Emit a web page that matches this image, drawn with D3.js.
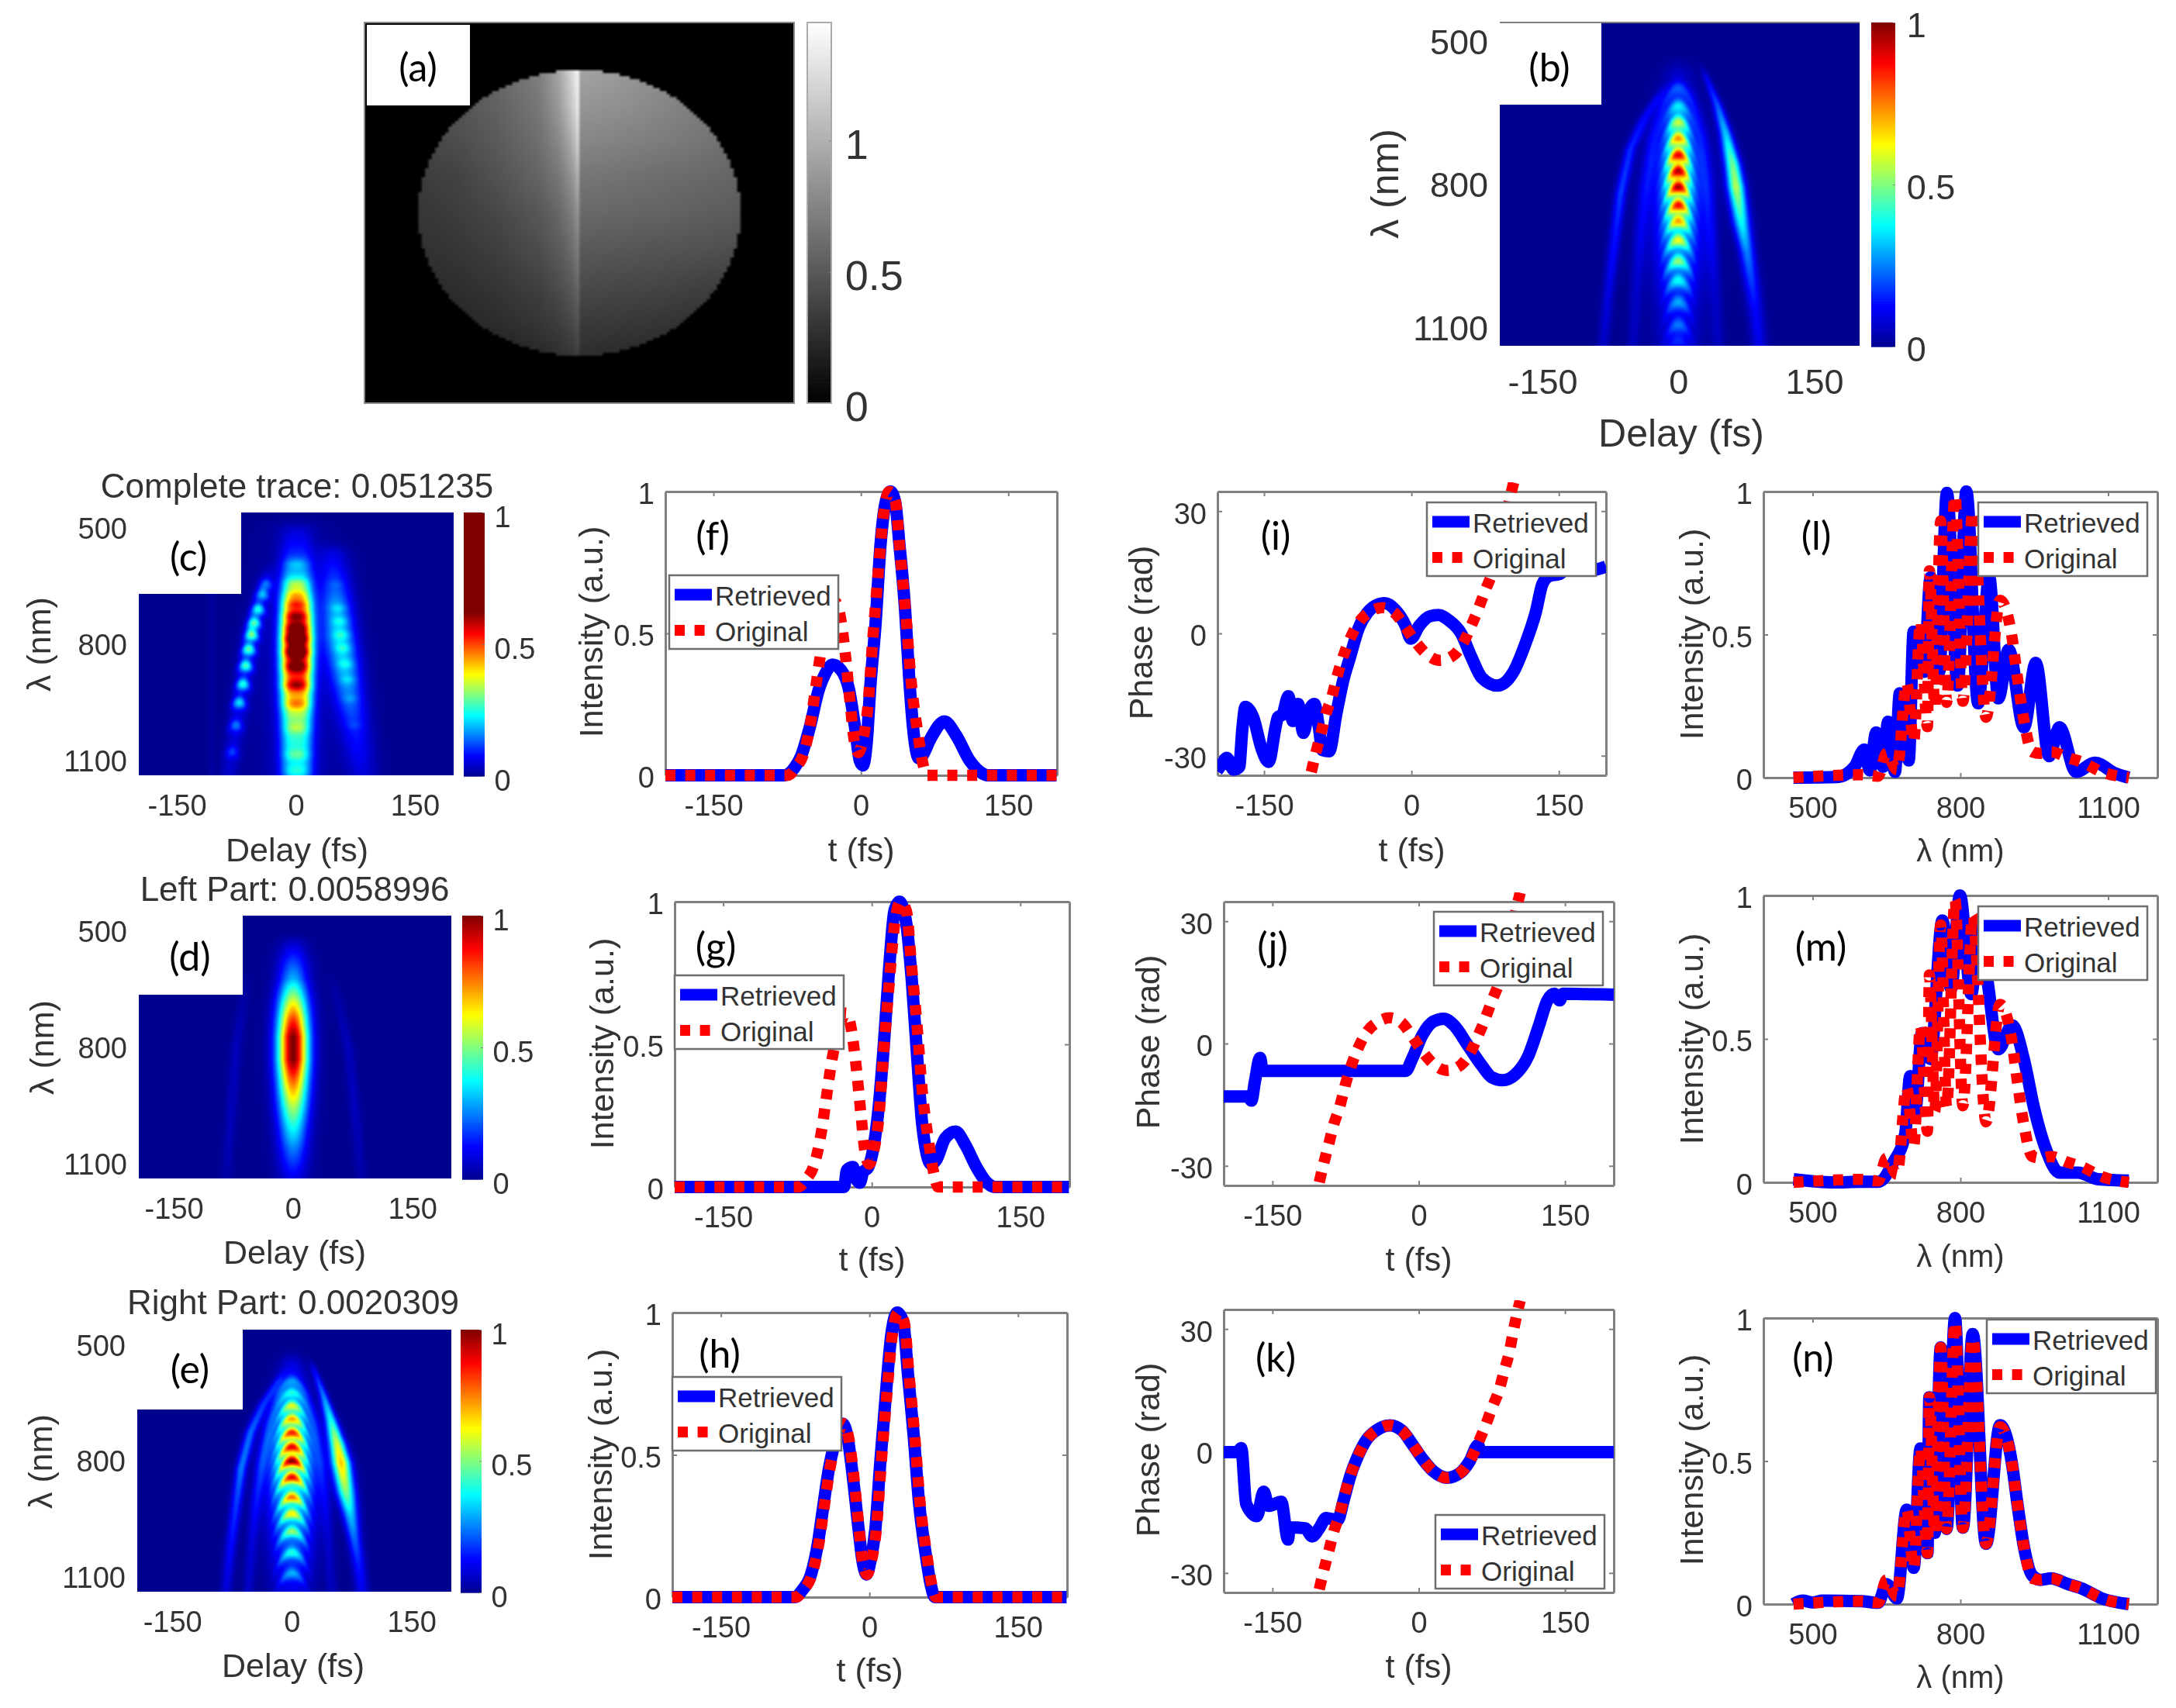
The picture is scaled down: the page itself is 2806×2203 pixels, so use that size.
<!DOCTYPE html>
<html>

<head>
    <meta charset="utf-8">
    <title>Pulse retrieval panels</title>
    <script src="https://cdnjs.cloudflare.com/ajax/libs/d3/7.8.5/d3.min.js"></script>
    <style>
        body { margin: 0; background: #fff; }
        svg { display: block; filter: blur(0.7px); }
        text { font-family: "Liberation Sans", Arial, sans-serif; fill: #333; }
        .tag { font-family: Lato, sans-serif; fill: #000; font-size: 50px; text-anchor: middle; dominant-baseline: central; }
    </style>
</head>

<body>
    <svg id="viz" width="2806" height="2203"></svg>
    <script>
        // values
        var delayTicks = [-150, 0, 150];
        var lambdaTicks = [500, 800, 1100];
        var intensityTicks = [0, 0.5, 1];
        var phaseTicks = [-30, 0, 30];
        var colorbarTicks = [0, 0.5, 1];

        // temporal intensity, original pulse (same in f, g, h)
        var tOrig = [-199, -74, -67, -58, -51, -46, -40, -35, -26, -21, -16, -10.5, -7, -2.5, 2, 7, 12, 17.5, 23, 29, 35, 40, 45.6, 51, 58, 63, 67, 199];
        var iOrig = [0, 0, 0.024, 0.08, 0.19, 0.31, 0.45, 0.53, 0.61, 0.56, 0.43, 0.24, 0.127, 0.08, 0.127, 0.24, 0.476, 0.71, 0.92, 1, 0.967, 0.78, 0.57, 0.335, 0.146, 0.042, 0, 0];
        // retrieved intensity
        var tF = [-199, -78, -68, -61, -52, -43, -36, -29, -20, -12, -6, -1, 2, 6, 9.5, 15, 20, 25, 30, 35, 39, 45, 49, 53, 59, 62, 71, 85, 97, 111, 124, 129, 199];
        var iF = [0, 0, 0.025, 0.067, 0.17, 0.3, 0.36, 0.39, 0.37, 0.3, 0.17, 0.05, 0.035, 0.12, 0.31, 0.54, 0.815, 0.96, 1, 0.96, 0.82, 0.58, 0.35, 0.17, 0.06, 0.067, 0.13, 0.19, 0.14, 0.05, 0.006, 0, 0];
        var tG = [-199, -28, -25, -19, -16, -12, -9, -3.5, 2, 7, 12, 17.6, 23, 28, 35, 40.5, 46, 51, 60, 65, 74, 84.5, 95, 105.6, 116, 125, 199];
        var iG = [0, 0, 0.06, 0.07, 0.03, 0.015, 0.05, 0.07, 0.144, 0.28, 0.49, 0.77, 0.97, 1, 0.92, 0.72, 0.447, 0.217, 0.08, 0.094, 0.17, 0.194, 0.144, 0.07, 0.016, 0, 0];
        var tH = [-199, -75, -68, -59, -52, -47, -41, -36, -27, -22, -17, -11, -7, -3, 1, 6, 11, 16.5, 22, 28, 34, 39, 44.6, 50, 57, 62, 66, 199];
        var iH = [0, 0, 0.024, 0.08, 0.19, 0.31, 0.45, 0.53, 0.61, 0.56, 0.43, 0.24, 0.127, 0.08, 0.127, 0.24, 0.476, 0.71, 0.92, 1, 0.967, 0.78, 0.57, 0.335, 0.146, 0.042, 0, 0];

        // temporal phase
        var tPhaseOrig = [-102, -97, -92, -87.4, -81, -75.7, -70, -63, -54, -42, -29.5, -17, -6.4, 4, 15, 29, 43, 52, 61, 68, 75, 82.4, 88, 93, 96.6, 101, 104];
        var pPhaseOrig = [-34, -29, -24.4, -20, -15.5, -10.5, -6, -1.6, 2.6, 5.3, 6.3, 5, 1.6, -2, -5, -6.6, -5.3, -2.6, 2, 6, 10.5, 15, 20, 24.4, 29, 34, 37];
        var tI = [-198, -193, -188, -181, -175.4, -172, -169, -161, -152.5, -145.4, -138.4, -136, -131.3, -125.3, -120.7, -115.4, -110, -104.8, -98.8, -94.2, -90.7, -83.7, -76.6, -69.5, -62.5, -53.7, -44.8, -34.2, -27.2, -16.6, -6, -0.7, 8, 18.7, 27.5, 38, 50.5, 61, 71.7, 87.5, 103.4, 115.8, 126.4, 133.4, 140.5, 151, 160, 181, 198];
        var pI = [-33.7, -32.1, -30.5, -33.4, -32.8, -23.1, -18, -20.6, -28.3, -31.5, -23.1, -20.6, -19.9, -15.4, -21.5, -17.3, -24.4, -19.3, -17.3, -23.1, -28.6, -28.9, -19.9, -11.6, -5.8, 1.3, 5.1, 7.1, 7.4, 5.8, 1.9, -1.3, 1.9, 4.2, 4.5, 3.2, 0, -5.8, -10.9, -12.8, -9.6, -2.6, 5.1, 12.2, 14.1, 14.6, 16.4, 15.4, 16.4];
        var tJ = [-200, -175, -171.6, -168, -162.7, -160, -13.5, -6.4, 4, 15, 25.6, 36, 50, 64.7, 75, 86, 98.4, 112.6, 123, 132, 139, 144.6, 148, 200];
        var pJ = [-13, -13, -14, -9.3, -3.5, -6.7, -6.7, -3.5, 2.2, 5.4, 6.1, 4.5, -0.3, -5.4, -8.3, -9, -7.7, -2.9, 4.2, 10.6, 12.2, 10.6, 12.2, 12];
        var tK = [-200, -186, -182, -177, -166, -159, -154, -141, -134, -132.5, -116.5, -109.4, -102, -95, -83, -77.4, -70, -63, -54, -42, -29.5, -17, -6.4, 4, 15, 29, 43, 52, 61, 63, 200];
        var pK = [-0.3, -0.3, 0.7, -13, -16, -10, -13.5, -12.5, -21.8, -18.8, -19, -21, -19, -16.5, -17, -12.5, -6, -1.6, 2.6, 5.3, 6.3, 5, 1.6, -2, -5, -6.6, -5.3, -2.6, 1.5, -0.3, -0.3];

        // spectra
        var lOrig = [461, 598, 633, 650, 671, 691, 705, 719, 733, 737, 748, 760, 772, 789, 805, 825, 852, 880.5, 905, 915, 929, 946, 963, 984, 1018, 1046, 1087, 1142];
        var sOrig = [0, 0.01, 0.005, 0.085, 0.028, 0.33, 0.127, 0.544, 0.178, 0.723, 0.249, 0.897, 0.263, 0.985, 0.267, 0.93, 0.211, 0.62, 0.488, 0.36, 0.2, 0.09, 0.085, 0.09, 0.07, 0.055, 0.02, 0];
        var lL = [461, 550, 585, 605, 616, 629, 643, 653, 667, 677, 695, 705, 726, 739.5, 757, 772.5, 794.5, 812, 836, 858.5, 877, 898, 929, 953, 980, 1001, 1035, 1073, 1114.5, 1142];
        var sL = [0, 0.002, 0.038, 0.098, 0.025, 0.158, 0.038, 0.195, 0.02, 0.295, 0.06, 0.51, 0.37, 0.7, 0.37, 0.995, 0.322, 1, 0.26, 0.7, 0.277, 0.447, 0.176, 0.401, 0.075, 0.176, 0.02, 0.052, 0.015, 0];
        var lM = [461, 543, 598, 633, 664, 688, 698, 708, 722, 739, 763.5, 781, 799, 822, 839, 856.5, 877, 905, 929, 949, 973.5, 1001, 1039, 1080, 1142];
        var sM = [0.011, 0, 0.002, 0.002, 0.07, 0.17, 0.37, 0.245, 0.52, 0.43, 0.913, 0.675, 1, 0.656, 0.913, 0.684, 0.464, 0.547, 0.428, 0.263, 0.116, 0.034, 0.034, 0.011, 0.006];
        var lN = [461, 480, 500, 520, 598, 633, 650, 671, 691, 705, 719, 733, 737, 748, 760, 772, 789, 805, 825, 852, 880.5, 905, 915, 929, 946, 963, 984, 1018, 1046, 1087, 1142];
        var sN = [0, 0.012, 0.006, 0.012, 0.01, 0.005, 0.07, 0.02, 0.33, 0.127, 0.544, 0.178, 0.723, 0.249, 0.897, 0.263, 1, 0.267, 0.944, 0.211, 0.625, 0.488, 0.36, 0.2, 0.1, 0.085, 0.09, 0.07, 0.055, 0.02, 0];

        // panel (a) mask, phase sampled on a coarse grid, seam at column 0
        var maskRows = [-48, -36, -24, -12, 0, 12, 24, 36, 48];
        var maskLeftCols = [-48, -36, -24, -12, -6, -2, 0];
        var maskRightCols = [0, 12, 24, 36, 48];
        var maskLeft = [
            [0.54, 0.54, 0.60, 0.72, 0.95, 1.25, 1.42],
            [0.45, 0.48, 0.56, 0.68, 0.88, 1.15, 1.38],
            [0.40, 0.44, 0.52, 0.63, 0.78, 1.00, 1.25],
            [0.34, 0.38, 0.47, 0.57, 0.68, 0.84, 1.05],
            [0.31, 0.35, 0.41, 0.50, 0.59, 0.72, 0.88],
            [0.28, 0.31, 0.36, 0.44, 0.52, 0.62, 0.75],
            [0.24, 0.27, 0.31, 0.37, 0.44, 0.52, 0.62],
            [0.20, 0.22, 0.26, 0.31, 0.36, 0.42, 0.50],
            [0.14, 0.16, 0.19, 0.23, 0.27, 0.31, 0.37]
        ];
        var maskRight = [
            [0.94, 0.88, 0.80, 0.71, 0.65],
            [0.85, 0.82, 0.77, 0.71, 0.65],
            [0.77, 0.74, 0.71, 0.67, 0.62],
            [0.67, 0.65, 0.62, 0.60, 0.57],
            [0.60, 0.58, 0.57, 0.54, 0.52],
            [0.51, 0.50, 0.48, 0.47, 0.44],
            [0.43, 0.41, 0.40, 0.37, 0.35],
            [0.34, 0.33, 0.31, 0.28, 0.27],
            [0.26, 0.24, 0.23, 0.22, 0.20]
        ];

        // traces: too fine to read cell by cell, so each is read as ridges
        // (lambda, delay, peak value, width in fs) and fringe lobes (delay, lambda, peak value)
        var bRidges = [
            { lam: [567, 629, 691, 754, 803, 878, 940, 1003, 1065, 1136], delay: [30, 43, 52.6, 60, 64, 70, 76, 81, 85.6, 89.5], val: [0.08, 0.2, 0.32, 0.48, 0.55, 0.38, 0.25, 0.18, 0.12, 0.1], width: [3, 4, 5, 6, 6.5, 6.5, 6, 6, 6, 6] },
            { lam: [617, 660, 722, 816, 909, 1034, 1136], delay: [-24, -38, -53, -64, -70, -78, -83], val: [0.08, 0.12, 0.16, 0.18, 0.14, 0.09, 0.06], width: [4, 4.5, 4.5, 4.5, 4.5, 4.5, 4.5] },
            { lam: [560, 620, 680, 740, 800, 860, 930, 1000, 1070, 1136], delay: [0, 0, 0, 0, 0, 0, 0, 0, 0, 0], val: [0.06, 0.1, 0.16, 0.22, 0.24, 0.22, 0.19, 0.14, 0.1, 0.08], width: [12, 15, 18, 20, 21, 21, 21, 20, 18, 18] },
            { lam: [620, 700, 800, 900, 1000, 1136], delay: [-15, -28, -36, -42, -46, -50], val: [0.06, 0.08, 0.09, 0.08, 0.06, 0.05], width: [5, 5, 5, 5, 5, 5] },
            { lam: [620, 700, 800, 900, 1000, 1136], delay: [15, 26, 32, 36, 40, 44], val: [0.06, 0.08, 0.09, 0.08, 0.06, 0.05], width: [5, 5, 5, 5, 5, 5] }
        ];
        var bLobes = {
            lam: [595, 632, 666, 700, 735, 769, 803, 841, 875, 915, 959, 1000, 1046, 1093, 1127],
            delay: [0, 0, 0, 0, 0, 0, 0, 0, 0, 0, 0, 0, 0, 0, 0],
            val: [0.13, 0.25, 0.42, 0.55, 0.68, 0.72, 0.72, 0.65, 0.5, 0.42, 0.35, 0.25, 0.18, 0.15, 0.08],
            sd: 9, sl: 11, curve: 0.12
        };

        var cValueLam = [500, 560, 600, 642, 670, 694, 725, 756, 783, 818, 856, 904, 953, 1015, 1084, 1136];
        var cValue = [0.02, 0.06, 0.11, 0.19, 0.26, 0.32, 0.38, 0.42, 0.45, 0.45, 0.41, 0.36, 0.28, 0.19, 0.16, 0.13];
        var cRidges = [
            { lam: cValueLam, delay: cValueLam.map(function() { return -8; }), val: cValue, width: cValueLam.map(function() { return 9; }) },
            { lam: cValueLam, delay: cValueLam.map(function() { return 10; }), val: cValue, width: cValueLam.map(function() { return 9; }) },
            { lam: [500, 800, 1136], delay: [1, 1, 1], val: [0.02, 0.05, 0.04], width: [25, 30, 30] },
            { lam: [560, 640, 700, 780, 860, 940, 1020, 1136], delay: [47, 50, 52, 56, 62, 68, 75, 84], val: [0.05, 0.11, 0.17, 0.21, 0.19, 0.14, 0.09, 0.05], width: [14, 14, 14, 14, 14, 14, 14, 14] },
            { lam: [620, 760, 900, 1136], delay: [-36, -55, -67, -85], val: [0.03, 0.06, 0.06, 0.04], width: [8, 8, 8, 8] },
            { lam: [460, 1136], delay: [-107, -107], val: [0.012, 0.012], width: [3, 3] }
        ];
        var cLobes = {
            lam: [590, 642, 670, 694, 725, 756, 783, 818, 856, 904, 953, 1015, 1084, 1125],
            delay: [1, 1, 1, 1, 1, 1, 1, 1, 1, 1, 1, 1, 1, 1],
            val: [0.05, 0.08, 0.08, 0.1, 0.12, 0.13, 0.17, 0.17, 0.14, 0.13, 0.09, 0.07, 0.06, 0.05],
            sd: 10, sl: 10, curve: 0
        };
        var cLeftLobes = {
            lam: [642, 669, 707, 742, 773, 811, 853, 901, 949, 1008, 1077],
            delay: [-38, -42.5, -48, -53, -56, -60, -63.6, -67, -72, -76, -80.6],
            val: [0.1, 0.14, 0.19, 0.22, 0.24, 0.22, 0.21, 0.19, 0.16, 0.1, 0.07],
            sd: 6, sl: 11, curve: 0.06
        };
        var cRightLobes = {
            lam: [642, 704, 738, 773, 808, 849, 890, 939, 1008],
            delay: [51, 54, 56, 58, 60, 63, 66, 69, 74],
            val: [0.02, 0.04, 0.05, 0.05, 0.05, 0.05, 0.04, 0.03, 0.02],
            sd: 7, sl: 8, curve: 0
        };

        var dRidges = [
            { lam: [520, 560, 620, 680, 720, 770, 830, 880, 950, 1000, 1060, 1100, 1136], delay: [0, 0, 0, 0, 0, 0, 0, 0, 0, 0, 0, 0, 0], val: [0.05, 0.15, 0.3, 0.6, 0.8, 1, 1, 0.8, 0.55, 0.4, 0.25, 0.17, 0.1], width: [12, 13, 13, 13.5, 13.5, 13.5, 13.5, 13.5, 13.5, 13, 13, 13, 13] },
            { lam: [640, 800, 960, 1136], delay: [-60, -72, -78, -84], val: [0.02, 0.05, 0.05, 0.03], width: [5, 5, 5, 5] },
            { lam: [640, 800, 960, 1136], delay: [52, 70, 78, 86], val: [0.02, 0.05, 0.05, 0.03], width: [5, 5, 5, 5] }
        ];

        var eRidges = [
            { lam: [560, 629, 691, 754, 803, 878, 940, 1003, 1065, 1136], delay: [28, 40, 49, 57, 62, 68, 74, 79, 84, 88], val: [0.1, 0.24, 0.38, 0.58, 0.68, 0.5, 0.32, 0.22, 0.15, 0.1], width: [3, 4, 5.5, 7, 8, 8, 7, 6, 6, 6] },
            { lam: [590, 650, 722, 816, 909, 1034, 1136], delay: [-18, -36, -52, -64, -70, -78, -83], val: [0.1, 0.16, 0.22, 0.24, 0.18, 0.12, 0.08], width: [4, 5, 5, 5, 5, 5, 5] },
            { lam: [540, 600, 680, 740, 800, 860, 930, 1000, 1070, 1136], delay: [0, 0, 0, 0, 0, 0, 0, 0, 0, 0], val: [0.08, 0.16, 0.28, 0.38, 0.42, 0.38, 0.3, 0.22, 0.16, 0.1], width: [11, 14, 17, 19, 20, 20, 20, 19, 18, 17] },
            { lam: [620, 700, 800, 900, 1000, 1136], delay: [-15, -28, -38, -45, -50, -55], val: [0.08, 0.12, 0.14, 0.12, 0.08, 0.06], width: [5, 5, 5, 5, 5, 5] },
            { lam: [620, 700, 800, 900, 1000, 1136], delay: [15, 28, 36, 42, 46, 50], val: [0.06, 0.1, 0.1, 0.08, 0.06, 0.05], width: [5, 5, 5, 5, 5, 5] }
        ];
        var eLobes = {
            lam: [590, 620, 654, 688, 724, 761, 797, 840, 892, 935, 981, 1036, 1090],
            delay: [0, 0, 0, 0, 0, 0, 0, 0, 0, 0, 0, 0, 0],
            val: [0.13, 0.21, 0.36, 0.42, 0.5, 0.51, 0.58, 0.5, 0.42, 0.34, 0.28, 0.22, 0.16],
            sd: 11, sl: 10, curve: 0.1
        };

        var svg = d3.select("#viz");
        var defs = svg.append("defs");
        var grey = "#808080";

        // MATLAB jet as a d3 scale, stretched by jetMax
        function jetScale(jetMax) {
            return d3.scaleLinear()
                .domain([0, 0.125, 0.375, 0.625, 0.875, 1].map(function(d) { return d * jetMax; }))
                .range(["#00008f", "#0000ff", "#00ffff", "#ffff00", "#ff0000", "#800000"])
                .clamp(true);
        }

        function cellImage(nx, ny, colorAt) {
            var canvas = document.createElement("canvas");
            canvas.width = nx;
            canvas.height = ny;
            var ctx = canvas.getContext("2d");
            for (var j = 0; j < ny; j++) {
                for (var i = 0; i < nx; i++) {
                    ctx.fillStyle = colorAt(i, j);
                    ctx.fillRect(i, j, 1, 1);
                }
            }
            return canvas.toDataURL();
        }

        function traceField(ridges, lobes) {
            var rs = ridges.map(function(r) {
                return {
                    from: r.lam[0], to: r.lam[r.lam.length - 1],
                    d: d3.scaleLinear().domain(r.lam).range(r.delay),
                    v: d3.scaleLinear().domain(r.lam).range(r.val),
                    w: d3.scaleLinear().domain(r.lam).range(r.width)
                };
            });
            return function(d, lam) {
                var sum = 0;
                rs.forEach(function(r) {
                    if (lam < r.from - 40 || lam > r.to + 40) return;
                    var fade = lam < r.from ? 1 - (r.from - lam) / 40 : 1;
                    var u = (d - r.d(lam)) / r.w(lam);
                    sum += fade * Math.max(r.v(lam), 0) * Math.exp(-0.5 * u * u);
                });
                lobes.forEach(function(g) {
                    g.lam.forEach(function(l0, k) {
                        var dd = d - g.delay[k];
                        var a = dd / g.sd;
                        var b = (lam - l0 - g.curve * dd * dd) / g.sl;
                        sum += g.val[k] * Math.exp(-0.5 * (a * a + b * b));
                    });
                });
                return sum;
            };
        }

        function colorbar(x0, x1, yTop, yBottom, maxValue, color, ticks, fontSize, labelDy) {
            var y = d3.scaleLinear().domain([0, maxValue]).range([yBottom, yTop]);
            var levels = d3.range(0, 128);
            svg.append("g").selectAll("rect")
                .data(levels)
                .enter()
                .append("rect")
                .attr("x", x0)
                .attr("width", x1 - x0)
                .attr("y", function(d) { return y((d + 1) / 128 * maxValue); })
                .attr("height", (yBottom - yTop) / 128 + 0.7)
                .attr("fill", function(d) { return color((d + 0.5) / 128 * maxValue); });
            var axis = svg.append("g")
                .attr("transform", "translate(" + x1 + ",0)")
                .call(d3.axisRight(y).tickValues(ticks).tickFormat(String).tickSizeInner(-3).tickSizeOuter(0).tickPadding(fontSize * 0.33));
            axis.select(".domain").remove();
            axis.selectAll("line").attr("stroke", grey);
            axis.selectAll("text").attr("font-size", fontSize).attr("dy", labelDy).attr("fill", "#333");
        }

        function tag(label, x, y) {
            svg.append("text").attr("class", "tag").attr("x", x).attr("y", y).text(label);
        }

        function whiteBox(x0, y0, x1, y1) {
            svg.append("rect").attr("x", x0).attr("y", y0).attr("width", x1 - x0).attr("height", y1 - y0).attr("fill", "#fff");
        }

        function heatPanel(p) {
            var x = d3.scaleLinear().domain(p.delay).range([p.left, p.right]);
            var y = d3.scaleLinear().domain(p.lambda).range([p.top, p.bottom]);
            var color = jetScale(p.jetMax);
            var field = traceField(p.ridges, p.lobes);
            var nx = 232, ny = 210;
            var fx = d3.scaleLinear().domain([0, nx - 1]).range(p.delay);
            var fy = d3.scaleLinear().domain([0, ny - 1]).range(p.lambda);
            svg.append("image")
                .attr("x", p.left).attr("y", p.top)
                .attr("width", p.right - p.left).attr("height", p.bottom - p.top)
                .attr("preserveAspectRatio", "none")
                .attr("href", cellImage(nx, ny, function(i, j) { return color(field(fx(i), fy(j))); }));
            whiteBox(p.left, p.top, p.box[0], p.box[1]);

            var xAxis = svg.append("g")
                .attr("transform", "translate(0," + p.bottom + ")")
                .call(d3.axisBottom(x).tickValues(delayTicks).tickFormat(String).tickSize(0).tickPadding(p.font * 0.66));
            var yAxis = svg.append("g")
                .attr("transform", "translate(" + p.left + ",0)")
                .call(d3.axisLeft(y).tickValues(lambdaTicks).tickFormat(String).tickSize(0).tickPadding(15));
            xAxis.select(".domain").remove();
            yAxis.select(".domain").remove();
            xAxis.selectAll("text").attr("font-size", p.font).attr("fill", "#333");
            yAxis.selectAll("text").attr("font-size", p.font).attr("fill", "#333");

            svg.append("text").attr("x", p.xLabel[0]).attr("y", p.xLabel[1])
                .attr("text-anchor", "middle").attr("dominant-baseline", "central")
                .attr("font-size", p.labelFont).text("Delay (fs)");
            svg.append("text")
                .attr("transform", "translate(" + p.yLabel[0] + "," + p.yLabel[1] + ") rotate(-90)")
                .attr("text-anchor", "middle").attr("dominant-baseline", "central")
                .attr("font-size", p.labelFont).text("λ (nm)");
            if (p.title) {
                svg.append("text").attr("x", p.title[1]).attr("y", p.title[2])
                    .attr("text-anchor", "middle").attr("dominant-baseline", "central")
                    .attr("font-size", 44).text(p.title[0]);
            }
            colorbar(p.bar[0], p.bar[1], p.top, p.bottom + 1, 1, jetScale(p.jetMax), colorbarTicks, p.font, p.barDy);
            tag(p.tag[0], p.tag[1], p.tag[2]);
        }

        var clipCount = 0;

        function linePanel(p) {
            var x = d3.scaleLinear().domain(p.xDomain).range([p.left, p.right]);
            var y = d3.scaleLinear().domain(p.yDomain).range([p.bottom, p.top]);

            function frame(axis, tx, ty) {
                var g = svg.append("g").attr("transform", "translate(" + tx + "," + ty + ")").call(axis);
                g.select(".domain").attr("stroke", grey).attr("stroke-width", 3);
                g.selectAll("line").attr("stroke", grey).attr("stroke-width", 2);
                return g;
            }
            var xAxis = d3.axisBottom(x).tickValues(p.xTicks).tickFormat(String).tickSizeInner(-6).tickSizeOuter(0).tickPadding(25);
            var yAxis = d3.axisLeft(y).tickValues(p.yTicks).tickFormat(String).tickSizeInner(-6).tickSizeOuter(0).tickPadding(14);
            frame(d3.axisTop(x).tickValues(p.xTicks).tickFormat("").tickSizeInner(-6).tickSizeOuter(0), 0, p.top);
            frame(d3.axisRight(y).tickValues(p.yTicks).tickFormat("").tickSizeInner(-6).tickSizeOuter(0), p.right, 0);
            var gx = frame(xAxis, 0, p.bottom);
            var gy = frame(yAxis, p.left, 0);
            gx.selectAll("text").attr("font-size", 38).attr("fill", "#333");
            gy.selectAll("text").attr("font-size", 38).attr("fill", "#333").attr("dy", "0.42em");

            var line = d3.line()
                .x(function(d) { return x(d[0]); })
                .y(function(d) { return y(d[1]); })
                .curve(d3.curveMonotoneX);

            // the original phase runs past the frame, so it is clipped there
            var clipId = "clip" + (clipCount++);
            defs.append("clipPath").attr("id", clipId).append("rect")
                .attr("x", p.left).attr("y", p.top - 12)
                .attr("width", p.right - p.left).attr("height", p.bottom - p.top + 24);
            var marks = svg.append("g").attr("clip-path", "url(#" + clipId + ")");

            marks.append("path")
                .datum(d3.zip(p.retrieved[0], p.retrieved[1]))
                .attr("d", line)
                .attr("fill", "none")
                .attr("stroke", "#0000ff")
                .attr("stroke-width", 16)
                .attr("stroke-linejoin", "round");
            marks.append("path")
                .datum(d3.zip(p.original[0], p.original[1]))
                .attr("d", line)
                .attr("fill", "none")
                .attr("stroke", "#ff0000")
                .attr("stroke-width", 14.5)
                .attr("stroke-dasharray", "13 12.6");

            svg.append("text").attr("x", (p.left + p.right) / 2 + p.xLabel[0]).attr("y", p.xLabel[1])
                .attr("text-anchor", "middle").attr("dominant-baseline", "central")
                .attr("font-size", p.labelFont).text(p.xLabel[2]);
            svg.append("text")
                .attr("transform", "translate(" + p.yLabel[0] + "," + p.yLabel[1] + ") rotate(-90)")
                .attr("text-anchor", "middle").attr("dominant-baseline", "central")
                .attr("font-size", 43).text(p.yLabel[2]);

            var lg = svg.append("g").attr("transform", "translate(" + p.legend[0] + "," + p.legend[1] + ")");
            lg.append("rect").attr("width", 218).attr("height", 95)
                .attr("fill", "#fff").attr("stroke", "#6e6e6e").attr("stroke-width", 2.5);
            lg.append("line").attr("x1", 7).attr("x2", 55).attr("y1", 25).attr("y2", 25)
                .attr("stroke", "#0000ff").attr("stroke-width", 15);
            lg.append("line").attr("x1", 7).attr("x2", 46).attr("y1", 71).attr("y2", 71)
                .attr("stroke", "#ff0000").attr("stroke-width", 14).attr("stroke-dasharray", "13 12.6");
            lg.append("text").attr("x", 59).attr("y", 26).attr("dominant-baseline", "central").attr("font-size", 35).text("Retrieved");
            lg.append("text").attr("x", 59).attr("y", 72).attr("dominant-baseline", "central").attr("font-size", 35).text("Original");
            tag(p.tag[0], p.tag[1], p.tag[2]);
        }

        // panel (a)
        function drawMask() {
            var left = 470, right = 1024, top = 29, bottom = 520;
            var gray = d3.scaleLinear().domain([0, 1.45]).range(["#000", "#fff"]).clamp(true);
            function grid(cols, table) {
                var cx = d3.scaleLinear().domain(cols).range(d3.range(cols.length)).clamp(true);
                var cy = d3.scaleLinear().domain(maskRows).range(d3.range(maskRows.length)).clamp(true);
                return function(dx, dy) {
                    var fx = cx(dx), fy = cy(dy);
                    var i = Math.min(Math.floor(fx), cols.length - 2), j = Math.min(Math.floor(fy), maskRows.length - 2);
                    var a = d3.interpolateNumber(table[j][i], table[j][i + 1])(fx - i);
                    var b = d3.interpolateNumber(table[j + 1][i], table[j + 1][i + 1])(fx - i);
                    return d3.interpolateNumber(a, b)(fy - j);
                };
            }
            var leftHalf = grid(maskLeftCols, maskLeft);
            var rightHalf = grid(maskRightCols, maskRight);
            var href = cellImage(128, 128, function(i, j) {
                var dx = i - 63.5, dy = j - 63.5;
                if (dx * dx + dy * dy > 48 * 48) return "#000";
                return gray(dx < 0 ? leftHalf(dx, dy) : rightHalf(dx, dy));
            });
            svg.append("image")
                .attr("x", left).attr("y", top)
                .attr("width", right - left).attr("height", bottom - top)
                .attr("preserveAspectRatio", "none")
                .attr("href", href);
            svg.append("rect").attr("x", left).attr("y", top).attr("width", right - left).attr("height", bottom - top)
                .attr("fill", "none").attr("stroke", "#8a8a8a").attr("stroke-width", 2);
            whiteBox(473, 32, 606, 136);
            colorbar(1041, 1072, 29, 520, 1.45, gray, [0, 0.5, 1], 54, "0.42em");
            svg.append("rect").attr("x", 1041).attr("y", 29).attr("width", 31).attr("height", 491)
                .attr("fill", "none").attr("stroke", "#aaa").attr("stroke-width", 2);
            tag("(a)", 539, 86);
        }

        drawMask();

        heatPanel({
            left: 1934, right: 2398, top: 29, bottom: 446, delay: [-197, 200], lambda: [458, 1136],
            ridges: bRidges, lobes: [bLobes], jetMax: 1, box: [2065, 135], font: 45, labelFont: 50,
            xLabel: [2168, 559], yLabel: [1786, 237], bar: [2413, 2444], barDy: "0.42em", tag: ["(b)", 1998, 86]
        });
        svg.append("line").attr("x1", 1934).attr("x2", 2398).attr("y1", 29).attr("y2", 29).attr("stroke", grey).attr("stroke-width", 2);
        heatPanel({
            left: 179, right: 585, top: 661, bottom: 1000, delay: [-198, 199], lambda: [458, 1136],
            ridges: cRidges, lobes: [cLobes, cLeftLobes, cRightLobes], jetMax: 0.62, box: [311, 766], font: 38, labelFont: 43,
            xLabel: [383, 1096], yLabel: [50, 831], bar: [598, 625], barDy: "0.48em", title: ["Complete trace: 0.051235", 383, 626], tag: ["(c)", 243, 717]
        });
        heatPanel({
            left: 179, right: 582, top: 1181, bottom: 1520, delay: [-194, 199], lambda: [458, 1136],
            ridges: dRidges, lobes: [], jetMax: 1, box: [313, 1283], font: 38, labelFont: 43,
            xLabel: [380, 1615], yLabel: [54, 1351], bar: [596, 623], barDy: "0.48em", title: ["Left Part: 0.0058996", 380, 1146], tag: ["(d)", 245, 1233]
        });
        heatPanel({
            left: 177, right: 582, top: 1715, bottom: 2053, delay: [-194, 200], lambda: [458, 1136],
            ridges: eRidges, lobes: [eLobes], jetMax: 1, box: [313, 1818], font: 38, labelFont: 43,
            xLabel: [378, 2148], yLabel: [52, 1885], bar: [594, 621], barDy: "0.48em", title: ["Right Part: 0.0020309", 378, 1679], tag: ["(e)", 245, 1765]
        });

        var intensityBase = { xDomain: [-199, 199.5], yDomain: [0, 1], xTicks: delayTicks, yTicks: intensityTicks, labelFont: 43 };
        var phaseBase = { yDomain: [-34.8, 34.8], xTicks: delayTicks, yTicks: phaseTicks, labelFont: 43 };
        var spectrumBase = { xDomain: [400, 1200], yDomain: [0, 1], xTicks: lambdaTicks, yTicks: intensityTicks, labelFont: 40 };

        function merge(base, extra) { return Object.assign({}, base, extra); }

        linePanel(merge(intensityBase, { left: 858, right: 1363, top: 634, bottom: 1000, retrieved: [tF, iF], original: [tOrig, iOrig],
            xLabel: [0, 1096, "t (fs)"], yLabel: [762, 815, "Intensity (a.u.)"], legend: [863, 742], tag: ["(f)", 919, 690] }));
        linePanel(merge(intensityBase, { left: 870, right: 1379, top: 1163, bottom: 1531, retrieved: [tG, iG], original: [tOrig, iOrig],
            xLabel: [0, 1624, "t (fs)"], yLabel: [776, 1346, "Intensity (a.u.)"], legend: [870, 1258], tag: ["(g)", 923, 1220] }));
        linePanel(merge(intensityBase, { left: 867, right: 1376, top: 1693, bottom: 2060, retrieved: [tH, iH], original: [tOrig, iOrig],
            xLabel: [0, 2154, "t (fs)"], yLabel: [774, 1876, "Intensity (a.u.)"], legend: [867, 1776], tag: ["(h)", 928, 1745] }));

        linePanel(merge(phaseBase, { left: 1570, right: 2071, top: 634, bottom: 1000, xDomain: [-197.4, 198], retrieved: [tI, pI], original: [tPhaseOrig, pPhaseOrig],
            xLabel: [0, 1096, "t (fs)"], yLabel: [1471, 816, "Phase (rad)"], legend: [1840, 648], tag: ["(i)", 1645, 690] }));
        linePanel(merge(phaseBase, { left: 1578, right: 2081, top: 1163, bottom: 1529, xDomain: [-200, 200], retrieved: [tJ, pJ], original: [tPhaseOrig, pPhaseOrig],
            xLabel: [0, 1624, "t (fs)"], yLabel: [1480, 1344, "Phase (rad)"], legend: [1849, 1176], tag: ["(j)", 1641, 1220] }));
        linePanel(merge(phaseBase, { left: 1578, right: 2081, top: 1689, bottom: 2054, xDomain: [-200, 200], retrieved: [tK, pK], original: [tPhaseOrig, pPhaseOrig],
            xLabel: [0, 2149, "t (fs)"], yLabel: [1480, 1870, "Phase (rad)"], legend: [1851, 1954], tag: ["(k)", 1645, 1750] }));

        linePanel(merge(spectrumBase, { left: 2274, right: 2782, top: 634, bottom: 1003, retrieved: [lL, sL], original: [lOrig, sOrig],
            xLabel: [0, 1097, "λ (nm)"], yLabel: [2181, 818, "Intensity (a.u.)"], legend: [2551, 648], tag: ["(l)", 2342, 690] }));
        linePanel(merge(spectrumBase, { left: 2274, right: 2782, top: 1155, bottom: 1525, retrieved: [lM, sM], original: [lOrig, sOrig],
            xLabel: [0, 1620, "λ (nm)"], yLabel: [2181, 1340, "Intensity (a.u.)"], legend: [2551, 1169], tag: ["(m)", 2348, 1220] }));
        linePanel(merge(spectrumBase, { left: 2274, right: 2782, top: 1700, bottom: 2069, retrieved: [lN, sN], original: [lOrig, sOrig],
            xLabel: [0, 2163, "λ (nm)"], yLabel: [2181, 1883, "Intensity (a.u.)"], legend: [2562, 1702], tag: ["(n)", 2338, 1750] }));
    </script>
</body>

</html>
